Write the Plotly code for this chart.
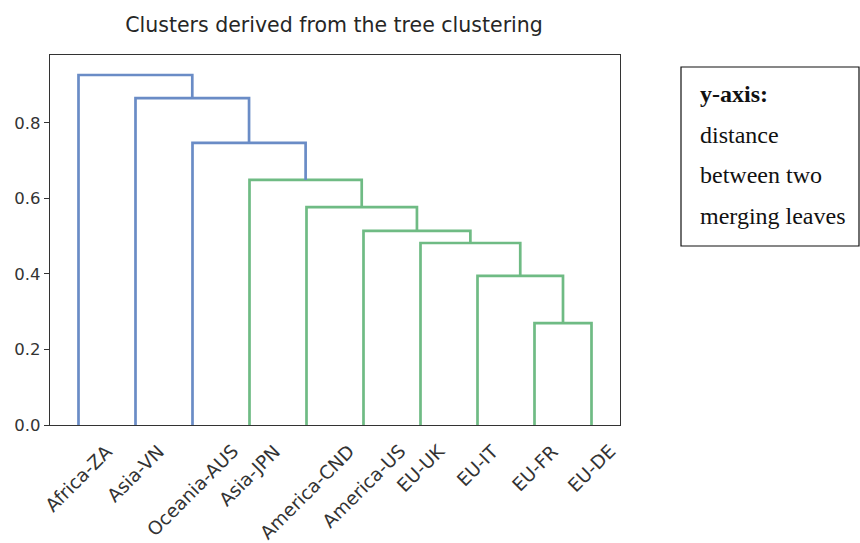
import plotly.graph_objects as go

# ---- data ----
leaves = ["Africa-ZA", "Asia-VN", "Oceania-AUS", "Asia-JPN", "America-CND",
          "America-US", "EU-UK", "EU-IT", "EU-FR", "EU-DE"]
# merges: (left, right, height, color); "c<k>" refers to the cluster made by merge k
merges = [
    ("EU-FR", "EU-DE", 0.270, "green"),
    ("EU-IT", "c0", 0.395, "green"),
    ("EU-UK", "c1", 0.482, "green"),
    ("America-US", "c2", 0.514, "green"),
    ("America-CND", "c3", 0.577, "green"),
    ("Asia-JPN", "c4", 0.649, "green"),
    ("Oceania-AUS", "c5", 0.747, "blue"),
    ("Asia-VN", "c6", 0.866, "blue"),
    ("Africa-ZA", "c7", 0.927, "blue"),
]
y_ticks = [0.0, 0.2, 0.4, 0.6, 0.8]
title = "Clusters derived from the tree clustering"
note_lines = ["<b>y-axis:</b>", "distance", "between two", "merging leaves"]

colors = {"blue": "#6a8cc6", "green": "#6fbb84"}
FONT = "DejaVu Sans"

# scipy-like leaf positions
leaf_x = {name: 5 + 10 * i for i, name in enumerate(leaves)}
node_pos = {}

def pos(node):
    if node in leaf_x:
        return leaf_x[node], 0.0
    return node_pos[node]

fig = go.Figure()
for k, (a, b, h, c) in enumerate(merges):
    xa, ya = pos(a)
    xb, yb = pos(b)
    fig.add_trace(go.Scatter(x=[xa, xa, xb, xb], y=[ya, h, h, yb], mode="lines",
                             line=dict(color=colors[c], width=2.7),
                             showlegend=False, hoverinfo="skip"))
    node_pos["c%d" % k] = ((xa + xb) / 2, h)

W, H = 860, 543
L, R, T, B = 50, 620, 55, 425  # plot area in pixels

fig.update_layout(
    width=W, height=H,
    margin=dict(l=L, r=W - R, t=T, b=H - B, autoexpand=False),
    plot_bgcolor="white", paper_bgcolor="white",
    font=dict(family=FONT, size=16, color="#262626"),
    title=dict(text=title, x=334 / W, xanchor="center",
               y=1 - 25 / H, yanchor="middle",
               font=dict(family=FONT, size=20.5, color="#262626")),
    xaxis=dict(range=[0, 100], tickvals=[leaf_x[n] for n in leaves],
               showticklabels=False,
               showgrid=False, zeroline=False, showline=True,
               linecolor="#333", linewidth=1.3, mirror=True, ticks=""),
    yaxis=dict(range=[0, 0.98], tickvals=y_ticks, ticktext=["%.1f" % v for v in y_ticks],
               showgrid=False, zeroline=False, showline=True, linecolor="#333",
               linewidth=1.3, mirror=True, ticks="outside", ticklen=5, tickcolor="#333",
               tickfont=dict(family=FONT, size=16.5, color="#333")),
)

def px_x(p):
    return (p - L) / (R - L)

def px_y(p):
    return (B - p) / (B - T)

# rotated leaf labels, centred under each leaf (matplotlib rotation=45 style)
for n in leaves:
    fig.add_annotation(xref="x", yref="paper", x=leaf_x[n], y=px_y(438),
                       xanchor="center", yanchor="top", text=n, textangle=-45,
                       showarrow=False, font=dict(family=FONT, size=18.5, color="#333"))

fig.add_shape(type="rect", xref="paper", yref="paper",
              x0=px_x(681), x1=px_x(859), y0=px_y(246), y1=px_y(67),
              line=dict(color="#111", width=1.2), fillcolor="white")
for i, t in enumerate(note_lines):
    fig.add_annotation(xref="paper", yref="paper", x=px_x(698), y=px_y(94 + 40.5 * i),
                       xanchor="left", yanchor="middle", text=t, showarrow=False,
                       font=dict(family="Liberation Serif", size=24, color="#111"))

fig.write_html("out.html", config={"displayModeBar": False},
               post_script="document.body.style.margin='0';"
                           "document.body.style.overflow='hidden';")
